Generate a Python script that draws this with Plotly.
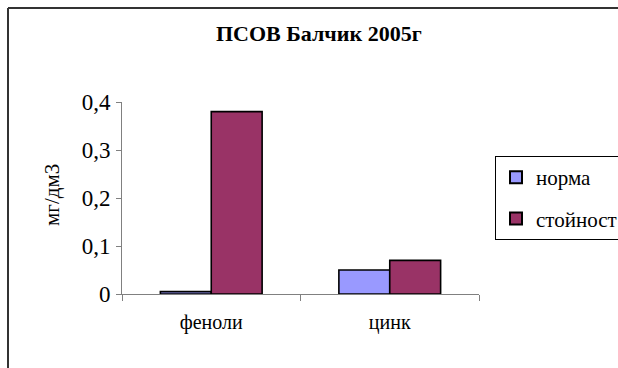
import plotly.graph_objects as go

categories = ["феноли", "цинк"]
norma = [0.005, 0.05]
stoynost = [0.38, 0.07]
series_names = ["норма", "стойност"]
ytick_vals = [0, 0.1, 0.2, 0.3, 0.4]
ytick_text = ["0", "0,1", "0,2", "0,3", "0,4"]

W, H = 618, 368
L, R, T, B = 122, 139, 102, 74
pw, ph = W - L - R, H - T - B

def px_x(p):
    return (p - L) / pw

def px_y(p):
    return (H - B - p) / ph

font = "Liberation Serif"

fig = go.Figure()
fig.add_trace(go.Bar(x=categories, y=norma, name=series_names[0], legendgroup="a",
                     marker=dict(color="#9999FF", line=dict(color="black", width=1.6))))
fig.add_trace(go.Bar(x=categories, y=stoynost, name=series_names[1], legendgroup="b",
                     marker=dict(color="#993366", line=dict(color="black", width=1.6))))

border = dict(color="#333333", width=2)
fig.update_layout(
    width=W, height=H,
    margin=dict(l=L, r=R, t=T, b=B, autoexpand=False),
    paper_bgcolor="white", plot_bgcolor="white",
    font=dict(family=font, color="black"),
    barmode="group", bargap=0.43, bargroupgap=0,
    showlegend=True,
    legend=dict(x=px_x(495), y=px_y(156), xanchor="left", yanchor="top",
                bordercolor="black", borderwidth=1, font=dict(size=21, family=font),
                traceorder="grouped", tracegroupgap=11, itemsizing="constant"),
    xaxis=dict(showline=True, linecolor="#808080", linewidth=1,
               ticks="outside", ticklen=6, tickcolor="#808080", tickson="boundaries",
               tickfont=dict(size=20), showgrid=False, ticklabelstandoff=10),
    yaxis=dict(range=[0, 0.4], showline=True, linecolor="#808080", linewidth=1,
               ticks="outside", ticklen=5, tickcolor="#808080",
               tickvals=ytick_vals, ticktext=ytick_text, tickfont=dict(size=23),
               showgrid=False, zeroline=False, ticklabelstandoff=1),
    annotations=[
        dict(text="<b>ПСОВ Балчик 2005г</b>", xref="paper", yref="paper",
             x=px_x(319), y=px_y(33), xanchor="center", yanchor="middle",
             showarrow=False, font=dict(size=22, family=font)),
        dict(text="мг/дм3", xref="paper", yref="paper", x=px_x(52), y=px_y(195),
             xanchor="center", yanchor="middle",
             textangle=-90, showarrow=False, font=dict(size=21, family=font)),
    ],
    shapes=[
        dict(type="line", xref="paper", yref="paper",
             x0=px_x(8), x1=px_x(W), y0=px_y(8), y1=px_y(8), line=border, layer="below"),
        dict(type="line", xref="paper", yref="paper",
             x0=px_x(8), x1=px_x(8), y0=px_y(8), y1=px_y(H), line=border, layer="below"),
    ],
)

fig.write_html("out.html", config={"displayModeBar": False})
with open("out.html", encoding="utf-8") as f:
    html = f.read()
html = html.replace("<head>", "<head><style>html,body{margin:0;padding:0;overflow:hidden}</style>", 1)
with open("out.html", "w", encoding="utf-8") as f:
    f.write(html)
